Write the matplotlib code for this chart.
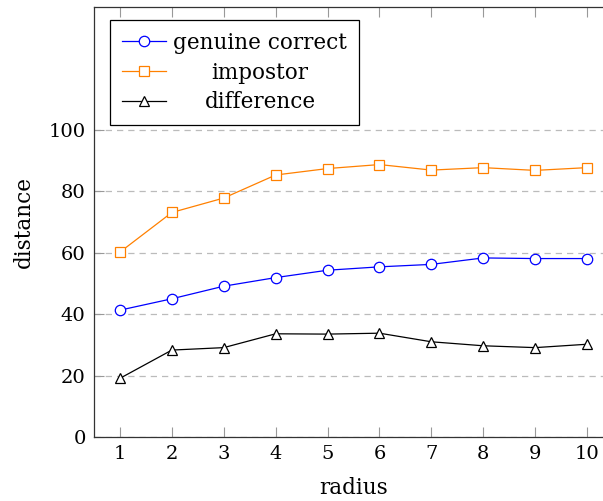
import numpy as np
import matplotlib
matplotlib.use("Agg")
import matplotlib.pyplot as plt

radius = [1, 2, 3, 4, 5, 6, 7, 8, 9, 10]
genuine = [41.3, 45.0, 49.1, 51.9, 54.3, 55.4, 56.2, 58.3, 58.1, 58.1]
impostor = [60.2, 73.1, 77.8, 85.3, 87.4, 88.7, 86.9, 87.7, 86.8, 87.7]
difference = [19.1, 28.3, 29.1, 33.6, 33.5, 33.8, 31.0, 29.7, 29.1, 30.2]
y_ticks = [0, 20, 40, 60, 80, 100]

plt.rcParams["font.family"] = ["DejaVu Serif"]
FS_TICK = 14
FS_TEXT = 15.5

fig = plt.figure(figsize=(6.03, 5.01), dpi=100)
ax = fig.add_axes([94 / 603, 64 / 501, 519 / 603, 430 / 501])

style = dict(lw=0.9, ms=7.5, mfc="white", mew=0.9)
ax.plot(radius, genuine, "-o", color="#0000ff", label="genuine correct", **style)
ax.plot(radius, impostor, "-s", color="#ff8000", label="impostor", **style)
ax.plot(radius, difference, "-^", color="black", label="difference", **style)

ax.set_xlim(0.5, 10.5)
ax.set_ylim(0, 140)
ax.set_xticks(radius)
ax.set_yticks(y_ticks)
ax.tick_params(direction="in", length=7, color="#999999", labelsize=FS_TICK,
               top=True, right=True, pad=6)
ax.grid(axis="y", color="#bbbbbb", linestyle=(0, (5, 4)), lw=0.9)
ax.set_axisbelow(True)
for sp in ax.spines.values():
    sp.set_color("#333333")
    sp.set_linewidth(0.9)

ax.set_xlabel("radius", fontsize=FS_TEXT, labelpad=9.5)
ax.set_ylabel("distance", fontsize=FS_TEXT, labelpad=9.5)

leg = ax.legend(loc="upper left", fontsize=FS_TEXT, frameon=True, fancybox=False,
                edgecolor="black", framealpha=1, borderpad=0.55,
                labelspacing=0.36, handlelength=2.05, handletextpad=0.33,
                borderaxespad=0.0, bbox_to_anchor=(16 / 519, 1 - 13 / 430))
leg.get_frame().set_linewidth(0.9)

# center the legend texts like pgfplots does
fig.canvas.draw()
r = fig.canvas.get_renderer()
widths = [t.get_window_extent(r).width for t in leg.get_texts()]
wmax = max(widths)
for t, w in zip(leg.get_texts(), widths):
    t.set_x((wmax - w) / 2)

fig.savefig("out.png", dpi=100)
